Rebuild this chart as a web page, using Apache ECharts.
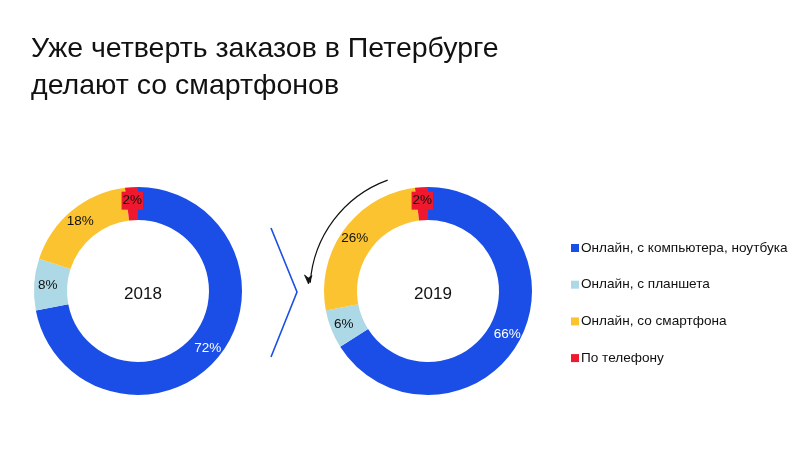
<!DOCTYPE html>
<html>
<head>
<meta charset="utf-8">
<script src="https://cdn.jsdelivr.net/npm/echarts@6/dist/echarts.min.js"></script>
<style>
html,body{margin:0;padding:0;background:#fff;}
#c{width:800px;height:450px;}
</style>
</head>
<body>
<div id="c"></div>
<script>
var categories = ['Онлайн, с компьютера, ноутбука', 'Онлайн, с планшета', 'Онлайн, со смартфона', 'По телефону'];
var values2018 = [72, 8, 18, 2];
var values2019 = [66, 6, 26, 2];
var years = ['2018', '2019'];
var colors = ['#1a4ee6', '#add8e6', '#fcc330', '#f0182e'];
var titleLines = ['Уже четверть заказов в Петербурге', 'делают со смартфонов'];

var FONT = '"Liberation Sans", Arial, sans-serif';

function makeData(vals) {
  return vals.map(function (v, i) {
    var d = { name: categories[i], value: v, itemStyle: { color: colors[i] } };
    var lbl = { color: i === 0 ? '#ffffff' : '#111111' };
    if (i === 3) { lbl.backgroundColor = colors[3]; lbl.padding = [3, 1, 1, 1]; }
    d.label = lbl;
    return d;
  });
}

function pie(center, vals) {
  return {
    type: 'pie',
    center: center,
    radius: [71, 104],
    startAngle: 90,
    clockwise: true,
    silent: true,
    avoidLabelOverlap: false,
    label: {
      show: true,
      position: 'inside',
      formatter: '{c}%',
      fontFamily: FONT,
      fontSize: 13.5
    },
    labelLine: { show: false },
    emphasis: { disabled: true },
    data: makeData(vals)
  };
}

var chart = echarts.init(document.getElementById('c'), null, { renderer: 'canvas' });
var c1 = [138, 291], c2 = [428, 291];
var arcR = 118;
chart.setOption({
  animation: false,
  backgroundColor: '#ffffff',
  title: [
    { text: titleLines.join('\n'), left: 26, top: 26,
      textStyle: { fontFamily: FONT, fontSize: 28.5, fontWeight: 'normal', color: '#111', lineHeight: 37 } },
    { text: years[0], left: c1[0], top: c1[1] - 2, textAlign: 'center', textVerticalAlign: 'middle',
      textStyle: { fontFamily: FONT, fontSize: 17, fontWeight: 'normal', color: '#111' } },
    { text: years[1], left: c2[0], top: c2[1] - 2, textAlign: 'center', textVerticalAlign: 'middle',
      textStyle: { fontFamily: FONT, fontSize: 17, fontWeight: 'normal', color: '#111' } }
  ],
  legend: {
    orient: 'vertical',
    left: 566,
    top: 236,
    itemGap: 22.7,
    itemWidth: 8,
    itemHeight: 8,
    icon: 'rect',
    selectedMode: false,
    textStyle: { fontFamily: FONT, fontSize: 13.6, color: '#111', padding: [0, 0, 0, -3] },
    data: categories
  },
  series: [pie(c1, values2018), pie(c2, values2019)],
  graphic: [
    { type: 'polyline', shape: { points: [[271, 228], [297, 292], [271, 357]] },
      style: { stroke: '#1a4ee6', lineWidth: 1.6, fill: null } },
    { type: 'arc', shape: { cx: c2[0], cy: c2[1], r: arcR,
        startAngle: -176 * Math.PI / 180, endAngle: -110 * Math.PI / 180, clockwise: true },
      style: { stroke: '#111', lineWidth: 1.2, fill: null } },
    { type: 'polygon', shape: { points: [[304.5, 275], [308.5, 284], [312, 275.5], [308.3, 278]] },
      style: { fill: '#111', stroke: '#111', lineWidth: 0.8 } }
  ]
});
</script>
</body>
</html>
